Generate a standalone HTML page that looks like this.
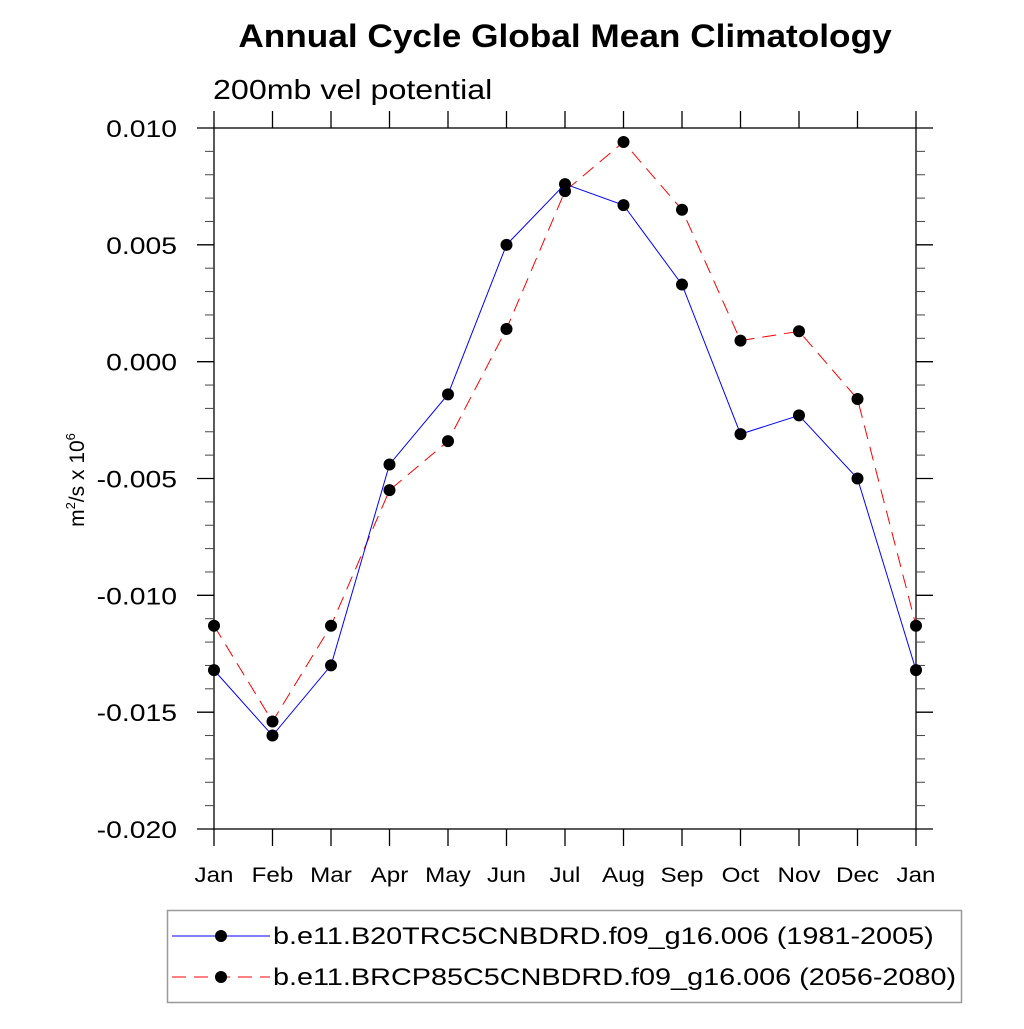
<!DOCTYPE html>
<html><head><meta charset="utf-8"><style>
html,body{margin:0;padding:0;background:#fff;}
svg text{font-family:"Liberation Sans",sans-serif;fill:#000;}
</style></head><body>
<svg id="chart" width="1024" height="1024" xmlns="http://www.w3.org/2000/svg">
<text class="st" data-f="1.10" x="565" y="47" font-size="32" font-weight="bold" text-anchor="middle">Annual Cycle Global Mean Climatology</text>
<text class="st" data-f="1.15" x="213" y="99" font-size="28">200mb vel potential</text>
<text transform="translate(84,480) rotate(-90)" font-size="21" text-anchor="middle">m<tspan dy="-9" font-size="13">2</tspan><tspan dy="9">/s x 10</tspan><tspan dy="-9" font-size="13">6</tspan></text>
<g id="axes"></g>
<g id="series"></g>
<g>
<rect x="167.5" y="910.5" width="794" height="92" fill="none" stroke="#999" stroke-width="1.5"/>
<line x1="172" y1="936" x2="270" y2="936" stroke="#00f" stroke-width="1"/>
<circle cx="221" cy="936" r="6" fill="#000"/>
<text class="st" data-f="1.2" x="273" y="944" font-size="24">b.e11.B20TRC5CNBDRD.f09_g16.006 (1981-2005)</text>
<line x1="172" y1="977" x2="270" y2="977" stroke="#f00" stroke-width="1" stroke-dasharray="14,8"/>
<circle cx="221" cy="977" r="6" fill="#000"/>
<text class="st" data-f="1.2" x="273" y="985" font-size="24">b.e11.BRCP85C5CNBDRD.f09_g16.006 (2056-2080)</text>
</g>
</svg>
<script>
const months = ["Jan","Feb","Mar","Apr","May","Jun","Jul","Aug","Sep","Oct","Nov","Dec","Jan"];
const baseValues = [-0.0132,-0.0160,-0.0130,-0.0044,-0.0014,0.0050,0.0076,0.0067,0.0033,-0.0031,-0.0023,-0.0050,-0.0132];
const futureValues = [-0.0113,-0.0154,-0.0113,-0.0055,-0.0034,0.0014,0.0073,0.0094,0.0065,0.0009,0.0013,-0.0016,-0.0113];
const yTicks = [0.010,0.005,0.000,-0.005,-0.010,-0.015,-0.020];
const yTickLabels = ["0.010","0.005","0.000","-0.005","-0.010","-0.015","-0.020"];

const L=214,R=916,T=128,B=829,yMin=-0.020,yMax=0.010;
const NS="http://www.w3.org/2000/svg";
function xs(i){return L+(R-L)*i/(months.length-1);}
function ys(v){return B-(v-yMin)/(yMax-yMin)*(B-T);}
function mk(tag,attrs,parent){const e=document.createElementNS(NS,tag);for(const k in attrs)e.setAttribute(k,attrs[k]);parent.appendChild(e);return e;}
const axes=document.getElementById('axes');
const frame=mk('rect',{x:L,y:T,width:R-L,height:B-T,fill:'none',stroke:'#000','stroke-width':1.3},axes);


for(let i=0;i<yTicks.length;i++){
  const y=ys(yTicks[i]);
  const t1=mk('line',{x1:L-17,y1:y,x2:L,y2:y,stroke:'#000','stroke-width':1.3},axes);
  
  
  const t2=mk('line',{x1:R,y1:y,x2:R+17,y2:y,stroke:'#000','stroke-width':1.3},axes);
  
  
  const lb=mk('text',{x:L-37,y:y+9,'font-size':24,'text-anchor':'end','class':'st','data-f':'1.18'},axes);
  lb.textContent=yTickLabels[i];
  
  
}
for(let k=0;k<=30;k++){
  if(k%5===0)continue;
  const y=ys(yMin+k*0.001);
  const m1=mk('line',{x1:L-9,y1:y,x2:L,y2:y,stroke:'#444','stroke-width':1},axes);
  
  
  const m2=mk('line',{x1:R,y1:y,x2:R+9,y2:y,stroke:'#444','stroke-width':1},axes);
  
  
}
for(let i=0;i<months.length;i++){
  const x=xs(i);
  const a=mk('line',{x1:x,y1:B,x2:x,y2:B+17,stroke:'#000','stroke-width':1.3},axes);
  
  
  const b=mk('line',{x1:x,y1:T-17,x2:x,y2:T,stroke:'#000','stroke-width':1.3},axes);
  
  
  const lb=mk('text',{x:x,y:882,'font-size':21,'text-anchor':'middle','class':'st','data-f':'1.15'},axes);
  lb.textContent=months[i];
  
  
}
const series=document.getElementById('series');
function draw(vals,color,dash,name){
  const pts=vals.map((v,i)=>xs(i)+','+ys(v)).join(' ');
  const pl=mk('polyline',{points:pts,fill:'none',stroke:color,'stroke-width':1,'stroke-dasharray':dash},series);
  
  
  vals.forEach((v,i)=>{
    const c=mk('circle',{cx:xs(i),cy:ys(v),r:6,fill:'#000'},series);
    
    
  });
}
draw(futureValues,'#f00','14,8','future');
draw(baseValues,'#00f','none','base');
document.querySelectorAll('text.st').forEach(t=>{
  const f=parseFloat(t.getAttribute('data-f'));
  const w=t.getComputedTextLength();
  t.setAttribute('textLength',(w*f).toFixed(1));
  t.setAttribute('lengthAdjust','spacingAndGlyphs');
});
</script>
</body></html>
